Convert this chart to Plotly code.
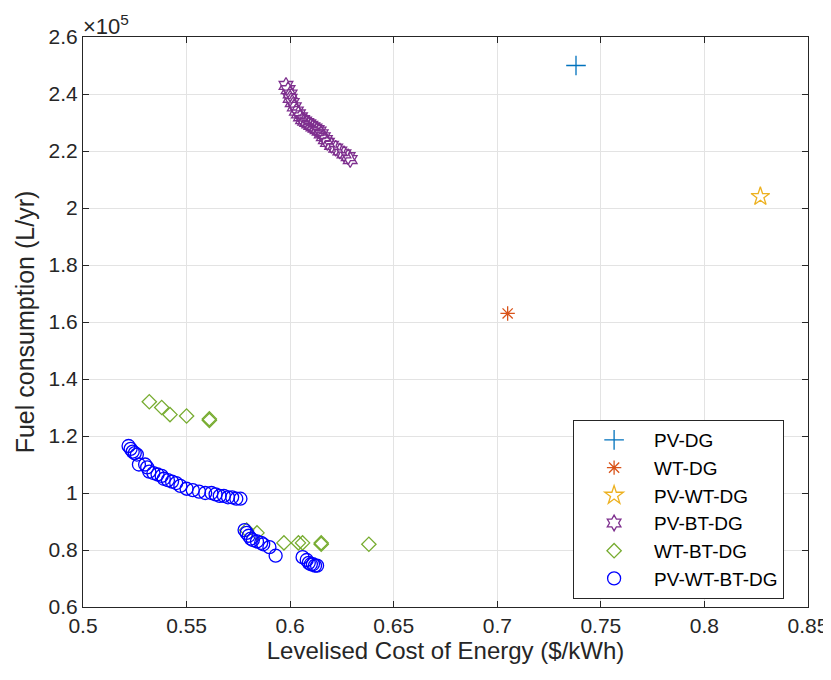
import plotly.graph_objects as go

# ---- data (x: LCOE $/kWh, y: fuel consumption in 1e5 L/yr) ----
pv_dg_x = [0.738]
pv_dg_y = [2.50]

wt_dg_x = [0.705]
wt_dg_y = [1.63]

pv_wt_dg_x = [0.827]
pv_wt_dg_y = [2.04]

pv_bt_dg_x = [0.598, 0.599, 0.600, 0.600, 0.601, 0.602, 0.603, 0.604, 0.605, 0.606,
              0.607, 0.608, 0.609, 0.610, 0.611, 0.612, 0.613, 0.614, 0.615, 0.616,
              0.617, 0.618, 0.620, 0.622, 0.624, 0.626, 0.628, 0.629]
pv_bt_dg_y = [2.43, 2.415, 2.40, 2.385, 2.37, 2.355, 2.34, 2.33, 2.32, 2.31,
              2.305, 2.30, 2.295, 2.29, 2.285, 2.28, 2.275, 2.27, 2.26, 2.25,
              2.24, 2.23, 2.22, 2.21, 2.20, 2.19, 2.18, 2.17]

wt_bt_dg_x = [0.532, 0.538, 0.542, 0.550, 0.561, 0.561, 0.579, 0.584, 0.597, 0.604,
              0.606, 0.615, 0.615, 0.638]
wt_bt_dg_y = [1.32, 1.30, 1.275, 1.27, 1.255, 1.26, 0.87, 0.86, 0.825, 0.825,
              0.825, 0.82, 0.825, 0.82]

pv_wt_bt_dg_x = [0.522, 0.523, 0.524, 0.525, 0.526, 0.527, 0.530, 0.531, 0.532, 0.534,
                 0.536, 0.538, 0.539, 0.541, 0.543, 0.545, 0.547, 0.550, 0.553, 0.556,
                 0.559, 0.562, 0.564, 0.566, 0.568, 0.570, 0.572, 0.574, 0.576,
                 0.578, 0.579, 0.580, 0.581, 0.582, 0.584, 0.586, 0.587, 0.590, 0.593,
                 0.606, 0.608, 0.609, 0.610, 0.611, 0.612, 0.613]
pv_wt_bt_dg_y = [1.165, 1.155, 1.145, 1.14, 1.135, 1.10, 1.10, 1.09, 1.075, 1.07,
                 1.065, 1.06, 1.05, 1.045, 1.04, 1.035, 1.025, 1.015, 1.01, 1.005,
                 1.00, 1.00, 0.995, 0.99, 0.99, 0.985, 0.985, 0.98, 0.98,
                 0.87, 0.86, 0.85, 0.84, 0.835, 0.83, 0.825, 0.82, 0.81, 0.78,
                 0.775, 0.765, 0.755, 0.75, 0.75, 0.745, 0.745]

x_ticks = [0.5, 0.55, 0.6, 0.65, 0.7, 0.75, 0.8, 0.85]
x_tick_labels = ["0.5", "0.55", "0.6", "0.65", "0.7", "0.75", "0.8", "0.85"]
y_ticks = [0.6, 0.8, 1.0, 1.2, 1.4, 1.6, 1.8, 2.0, 2.2, 2.4, 2.6]
y_tick_labels = ["0.6", "0.8", "1", "1.2", "1.4", "1.6", "1.8", "2", "2.2", "2.4", "2.6"]

series = [
    ("PV-DG", pv_dg_x, pv_dg_y, "cross-thin-open", "#0072BD", 14),
    ("WT-DG", wt_dg_x, wt_dg_y, "asterisk-open", "#D95319", 12),
    ("PV-WT-DG", pv_wt_dg_x, pv_wt_dg_y, "star-open", "#EDB120", 14),
    ("PV-BT-DG", pv_bt_dg_x, pv_bt_dg_y, "hexagram-open", "#7E2F8E", 12),
    ("WT-BT-DG", wt_bt_dg_x, wt_bt_dg_y, "diamond-open", "#77AC30", 11),
    ("PV-WT-BT-DG", pv_wt_bt_dg_x, pv_wt_bt_dg_y, "circle-open", "#0000FF", 13),
]

fig = go.Figure()
for name, xs, ys, sym, col, sz in series:
    fig.add_trace(go.Scatter(
        x=xs, y=ys, mode="markers", name=name,
        marker=dict(symbol=sym, color=col, size=sz, line=dict(width=1.3, color=col)),
    ))

font_family = "Liberation Sans, Arial, Helvetica, sans-serif"
axis_common = dict(
    showgrid=True, gridcolor="#e3e3e3", gridwidth=1,
    showline=True, linecolor="#262626", linewidth=1, mirror="ticks",
    ticks="inside", ticklen=6, tickcolor="#262626",
    zeroline=False, automargin=False, ticklabeloverflow="allow",
    tickfont=dict(family=font_family, size=21, color="#262626"),
)

# page body has an 8px default margin, so offsets are compensated here
fig.update_layout(
    width=823, height=672,
    margin=dict(l=75, r=23, t=29, b=73),
    paper_bgcolor="white", plot_bgcolor="white",
    font=dict(family=font_family, color="#262626"),
    xaxis=dict(range=[0.5, 0.85], tickvals=x_ticks, ticktext=x_tick_labels,
               title=dict(text="Levelised Cost of Energy ($/kWh)",
                          font=dict(family=font_family, size=24, color="#262626"),
                          standoff=4),
               **axis_common),
    yaxis=dict(range=[0.6, 2.6], tickvals=y_ticks, ticktext=y_tick_labels,
               title=dict(text="Fuel consumption (L/yr)",
                          font=dict(family=font_family, size=25, color="#262626"),
                          standoff=6),
               **axis_common),
    legend=dict(
        x=0.676, y=0.328, xanchor="left", yanchor="top",
        bgcolor="white", bordercolor="#262626", borderwidth=1,
        font=dict(family=font_family, size=19, color="#000000"),
        tracegroupgap=0, itemwidth=70,
    ),
    showlegend=True,
)

fig.add_annotation(
    x=0, y=1, xref="paper", yref="paper", xanchor="left", yanchor="bottom",
    text="×10<sup>5</sup>", showarrow=False, xshift=-2, yshift=-4,
    font=dict(family=font_family, size=22, color="#262626"),
)

fig.write_html("out.html")
